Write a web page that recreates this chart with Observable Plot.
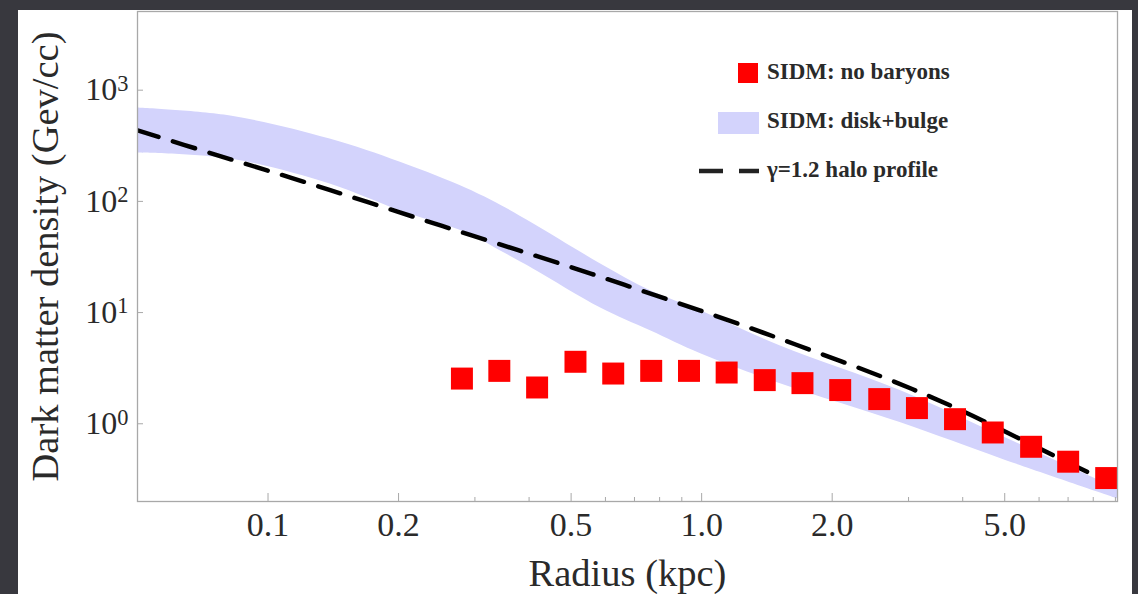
<!DOCTYPE html>
<html><head><meta charset="utf-8">
<script src="https://cdn.jsdelivr.net/npm/d3@7"></script>
<script src="https://cdn.jsdelivr.net/npm/@observablehq/plot@0.6"></script>
<style>
html,body{margin:0;padding:0;background:#38383e;width:1138px;height:594px;overflow:hidden;}
#panel{position:absolute;left:18px;top:10px;width:1114px;height:584px;background:#fff;}
#panel svg{position:absolute;left:0;top:0;}
</style></head><body>
<div id="panel"></div>
<script>
// SIDM: disk+bulge band
const bandR  = [0.05, 0.082, 0.139, 0.202, 0.288, 0.343, 0.409, 0.585, 0.762, 0.995, 1.52, 2.88, 4.9, 9.1];
const bandHi = [690, 585, 364, 225, 130, 93, 63, 27.4, 15.7, 10.4, 5.0, 1.98, 0.78, 0.26];
const bandLo = [272, 240, 143, 82, 52, 36, 24.7, 11.0, 6.85, 4.26, 2.29, 1.02, 0.485, 0.212];
// gamma = 1.2 halo profile
const haloR   = [0.0498, 0.0762, 0.1136, 0.1693, 0.252, 0.376, 0.557, 0.826, 1.217, 1.804, 2.675, 3.90, 6.50, 9.1];
const haloRho = [438, 261, 162, 98.8, 60.1, 36.6, 22.3, 13.3, 7.91, 4.53, 2.54, 1.36, 0.516, 0.272];
// SIDM: no baryons
const nbR   = [0.280, 0.3415, 0.4174, 0.5117, 0.6253, 0.765, 0.935, 1.142, 1.398, 1.708, 2.087, 2.568, 3.137, 3.840, 4.692, 5.752, 7.003, 8.57];
const nbRho = [2.55, 2.99, 2.12, 3.61, 2.83, 2.99, 2.99, 2.89, 2.47, 2.32, 2.01, 1.667, 1.384, 1.10, 0.835, 0.621, 0.456, 0.325];
// ticks
const xMajor = [0.1, 0.2, 0.5, 1, 2, 5];
const xTickLabels = ["0.1", "0.2", "0.5", "1.0", "2.0", "5.0"];
const xMinor = [0.3, 0.4, 0.6, 0.7, 0.8, 0.9, 3, 4, 6, 7, 8, 9];
const yMajor = [1, 10, 100, 1000];
const yExp = ["0", "1", "2", "3"];
const legendLabels = ["SIDM: no baryons", "SIDM: disk+bulge", "\u03b3=1.2 halo profile"];

const band = bandR.map((r, i) => ({r, lo: bandLo[i], hi: bandHi[i]}));
const halo = haloR.map((r, i) => ({r, rho: haloRho[i]}));
const nb = nbR.map((r, i) => ({r, rho: nbRho[i]}));

const serif = "'Liberation Serif', 'Times New Roman', serif";
const tickCol = "#a8a8a8";
const textCol = "#2a2a2a";

const chart = Plot.plot({
  width: 1114, height: 584,
  marginLeft: 119, marginRight: 15, marginTop: 1, marginBottom: 93,
  x: {type: "log", domain: [0.05, 9.1]},
  y: {type: "log", domain: [0.2, 5100]},
  style: {fontFamily: serif, background: "white", color: textCol},
  marks: [
    Plot.areaY(band, {x: "r", y1: "lo", y2: "hi", fill: "#d3d3fc", curve: "catmull-rom"}),
    Plot.line(halo, {x: "r", y: "rho", stroke: "black", strokeWidth: 4.5, strokeDasharray: "23,15", curve: "catmull-rom", clip: true}),
    Plot.dot(nb, {x: "r", y: "rho", symbol: "square", r: 12.4, fill: "#ff0000", stroke: "none"}),
    Plot.frame({stroke: tickCol, strokeWidth: 1.3}),
    Plot.axisX({ticks: xMajor, tickSize: -8, fill: null, stroke: tickCol, label: null}),
    Plot.axisX({ticks: xMinor, tickSize: -4, fill: null, stroke: tickCol, label: null}),
    Plot.axisX({ticks: xMajor, tickSize: 0, tickPadding: 10, text: d => xTickLabels[xMajor.indexOf(d)], fontSize: 34, fill: textCol, label: null}),
    Plot.axisX({ticks: [], label: "Radius (kpc)", labelAnchor: "center", labelArrow: "none", labelOffset: 84, fontSize: 38.5, fill: textCol}),
    Plot.axisY({ticks: yMajor, tickSize: -6, fill: null, stroke: tickCol, label: null}),
    Plot.axisY({ticks: yMajor, tickSize: 0, tickPadding: 9, text: d => yExp[yMajor.indexOf(d)], fontSize: 32, fill: textCol, label: null}),
    Plot.axisY({ticks: [], label: "Dark matter density (Gev/cc)", labelAnchor: "center", labelArrow: "none", labelOffset: 107, fontSize: 38.5, fill: textCol})
  ]
});

// superscript exponents on y tick labels
d3.select(chart).selectAll('g[aria-label="y-axis tick label"] text').each(function() {
  const t = d3.select(this);
  const e = t.text();
  t.text("10");
  t.append("tspan").attr("dy", "-0.42em").attr("font-size", "0.7em").text(e);
});

document.getElementById("panel").appendChild(chart);

// legend overlay
const lg = d3.select("#panel").append("svg")
  .attr("width", 1114).attr("height", 584)
  .style("pointer-events", "none")
  .attr("font-family", serif).attr("font-weight", "bold").attr("font-size", 23).attr("fill", textCol);
lg.append("rect").attr("x", 720).attr("y", 53).attr("width", 20).attr("height", 20).attr("fill", "#ff0000");
lg.append("rect").attr("x", 700).attr("y", 102).attr("width", 41).attr("height", 22).attr("fill", "#d3d3fc");
lg.append("line").attr("x1", 681).attr("x2", 741).attr("y1", 161).attr("y2", 161)
  .attr("stroke", "#222").attr("stroke-width", 4.5).attr("stroke-dasharray", "24,16");
[69, 118, 167].forEach((y, i) => {
  lg.append("text").attr("x", 749).attr("y", y).text(legendLabels[i]);
});
</script>
</body></html>
